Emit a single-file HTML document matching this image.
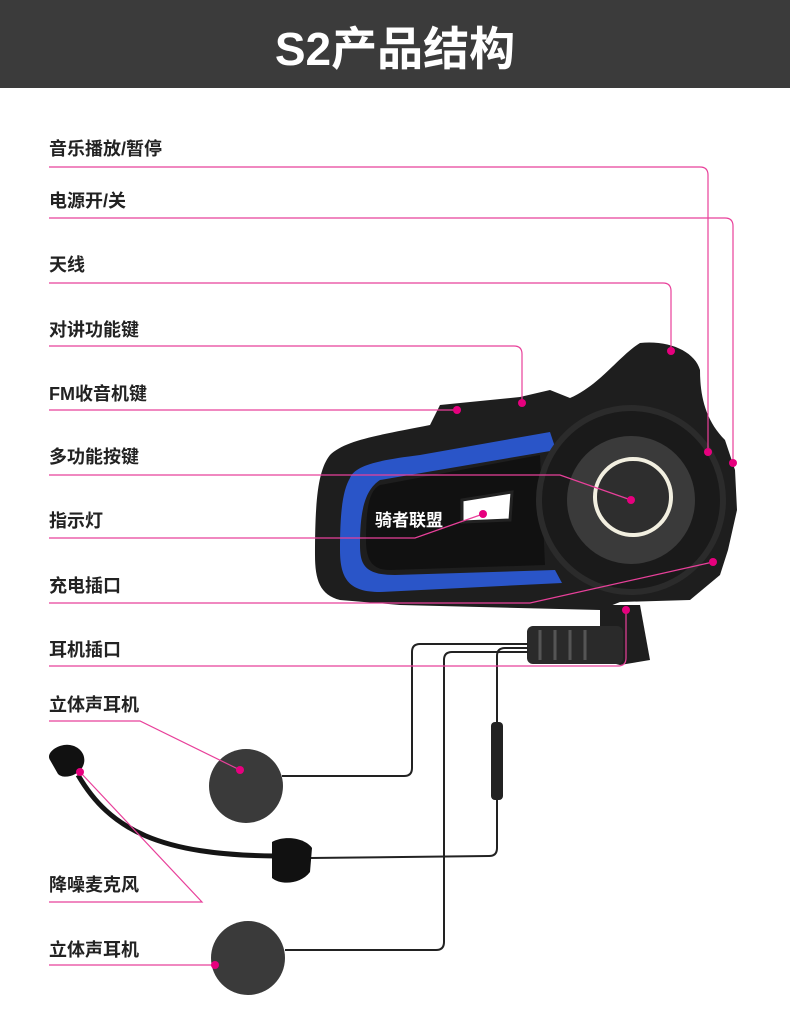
<!DOCTYPE html>
<html><head><meta charset="utf-8"><style>
html,body{margin:0;padding:0;background:#fff}
svg{display:block}
text{font-family:"Liberation Sans","Noto Sans CJK SC",sans-serif;font-weight:bold}
</style></head><body>
<svg width="790" height="1026" viewBox="0 0 790 1026" xmlns="http://www.w3.org/2000/svg">
<rect x="0" y="0" width="790" height="88" fill="#3b3b3b"/>
<text x="395" y="65" font-size="46" fill="#fff" text-anchor="middle">S2产品结构</text>

<path d="M330,455 C345,440 380,435 430,425 L440,405 L520,397 L550,390 L570,398 C600,385 620,355 640,343 C670,340 695,352 700,370 C700,395 705,420 725,440 L735,470 L737,510 L728,550 L720,575 L690,600 L620,602 L600,610 L400,605 L340,600 C320,595 315,580 315,555 C315,500 318,470 330,455Z" fill="#1e1e1e"/>
<path d="M350,478 C355,465 380,460 420,455 L550,432 L556,450 L380,480 C365,490 360,510 360,545 C360,565 365,575 395,575 L555,570 L562,583 L380,592 C350,592 340,580 340,550 C340,510 343,490 350,478Z" fill="#2a55c8"/>
<path d="M380,485 L540,455 L545,565 L390,570 C372,570 366,560 366,540 C366,505 370,490 380,485Z" fill="#111"/>
<circle cx="631" cy="500" r="92" fill="#1a1a1a" stroke="#2b2b2b" stroke-width="6"/>
<circle cx="631" cy="500" r="64" fill="#3a3a3a"/>
<circle cx="633" cy="497" r="38" fill="#2e2e2e" stroke="#f2efe0" stroke-width="4"/>
<path d="M462,500 L512,492 L510,520 L462,522Z" fill="#fff" stroke="#222" stroke-width="3"/>
<text x="375" y="526" font-size="17" fill="#fff" font-family="Liberation Serif,Noto Serif CJK SC,serif">骑者联盟</text>
<path d="M600,605 L640,605 L650,660 L620,665 L600,660Z" fill="#1e1e1e"/>
<rect x="527" y="626" width="96" height="38" rx="6" fill="#2a2a2a"/>
<g stroke="#555" stroke-width="3"><line x1="540" y1="630" x2="540" y2="660"/><line x1="555" y1="630" x2="555" y2="660"/><line x1="570" y1="630" x2="570" y2="660"/><line x1="585" y1="630" x2="585" y2="660"/></g>

<g fill="none" stroke="#222" stroke-width="2">
<path d="M528,644 L420,644 Q412,644 412,652 L412,768 Q412,776 404,776 L282,776"/>
<path d="M528,648 L505,648 Q497,648 497,656 L497,848 Q497,856 489,856 L310,858"/>
<path d="M528,652 L452,652 Q444,652 444,660 L444,942 Q444,950 436,950 L285,950"/>
</g>
<rect x="491" y="722" width="12" height="78" rx="4" fill="#222"/>

<path d="M78,775 C110,830 160,855 275,856" fill="none" stroke="#151515" stroke-width="5"/>
<path d="M50,760 C45,752 60,743 70,745 C82,747 88,758 82,768 C78,775 64,780 58,774Z" fill="#111"/>
<path d="M272,842 C285,835 305,838 312,848 L310,872 C300,885 280,885 272,878Z" fill="#111"/>
<ellipse cx="246" cy="786" rx="37" ry="37" fill="#3a3a3a"/>
<ellipse cx="248" cy="958" rx="37" ry="37" fill="#3a3a3a"/>

<g font-size="18" fill="#222">
<text x="49" y="155">音乐播放/暂停</text>
<text x="49" y="207">电源开/关</text>
<text x="49" y="271">天线</text>
<text x="49" y="336">对讲功能键</text>
<text x="49" y="400">FM收音机键</text>
<text x="49" y="463">多功能按键</text>
<text x="49" y="527">指示灯</text>
<text x="49" y="592">充电插口</text>
<text x="49" y="656">耳机插口</text>
<text x="49" y="711">立体声耳机</text>
<text x="49" y="891">降噪麦克风</text>
<text x="49" y="956">立体声耳机</text>
</g>

<g fill="none" stroke="#e8409a" stroke-width="1.2">
<path d="M49,167 L700,167 Q708,167 708,175 L708,452"/>
<path d="M49,218 L725,218 Q733,218 733,226 L733,463"/>
<path d="M49,283 L663,283 Q671,283 671,291 L671,351"/>
<path d="M49,346 L514,346 Q522,346 522,354 L522,403"/>
<path d="M49,410 L457,410"/>
<path d="M49,475 L560,475 L631,500"/>
<path d="M49,538 L415,538 L483,514"/>
<path d="M49,603 L530,603 L713,562"/>
<path d="M49,666 L618,666 Q626,666 626,658 L626,610"/>
<path d="M49,721 L140,721 L240,770"/>
<path d="M49,902 L202,902 L80,772"/>
<path d="M49,965 L215,965"/>
</g>
<g fill="#e6007e">
<circle cx="708" cy="452" r="4"/><circle cx="733" cy="463" r="4"/><circle cx="671" cy="351" r="4"/>
<circle cx="522" cy="403" r="4"/><circle cx="457" cy="410" r="4"/><circle cx="631" cy="500" r="4"/>
<circle cx="483" cy="514" r="4"/><circle cx="713" cy="562" r="4"/><circle cx="626" cy="610" r="4"/>
<circle cx="240" cy="770" r="4"/><circle cx="80" cy="772" r="4"/><circle cx="215" cy="965" r="4"/>
</g>
</svg>
</body></html>
